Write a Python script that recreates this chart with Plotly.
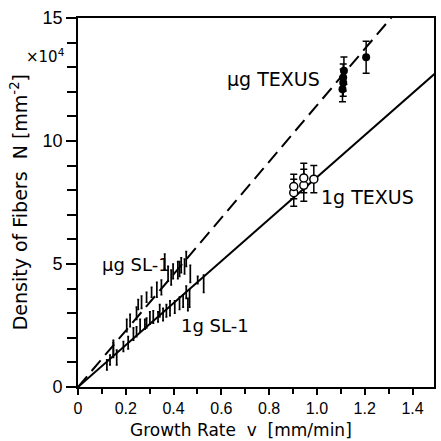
import plotly.graph_objects as go

# ---- data (growth rate v in mm/min, density N in 10^4 mm^-2) ----
mu_sl1_x = [0.148, 0.204, 0.218, 0.245, 0.252, 0.266, 0.287, 0.308, 0.33, 0.349, 0.363,
            0.377, 0.39, 0.398, 0.418, 0.425, 0.432, 0.446, 0.453, 0.47]
mu_sl1_y = [1.6, 2.5, 2.7, 3.0, 3.35, 3.45, 3.65, 3.85, 3.95, 4.05, 5.1,
            4.6, 4.45, 4.7, 4.75, 4.8, 4.95, 4.9, 5.2, 4.6]
mu_sl1_err = [0.3, 0.25, 0.25, 0.25, 0.2, 0.25, 0.2, 0.2, 0.3, 0.3, 0.3,
              0.3, 0.3, 0.3, 0.35, 0.3, 0.3, 0.3, 0.3, 0.35]

g1_sl1_x = [0.121, 0.134, 0.148, 0.162, 0.19, 0.21, 0.232, 0.245, 0.26, 0.28, 0.287,
            0.301, 0.315, 0.335, 0.342, 0.356, 0.37, 0.385, 0.405, 0.425, 0.44,
            0.453, 0.46, 0.467, 0.501, 0.526]
g1_sl1_y = [0.9, 1.1, 1.5, 1.2, 1.65, 1.8, 2.15, 2.25, 2.5, 2.55, 2.6,
            2.8, 2.85, 2.85, 3.1, 2.95, 3.1, 3.2, 3.25, 3.4, 3.5,
            3.85, 3.35, 3.6, 4.35, 4.2]
g1_sl1_err = [0.2, 0.2, 0.3, 0.3, 0.2, 0.25, 0.25, 0.2, 0.25, 0.2, 0.2,
              0.25, 0.25, 0.2, 0.25, 0.25, 0.25, 0.3, 0.25, 0.25, 0.25,
              0.25, 0.25, 0.35, 0.15, 0.35]

mu_texus_x = [1.107, 1.11, 1.11, 1.113, 1.206]
mu_texus_y = [12.1, 12.37, 12.58, 12.86, 13.4]
mu_texus_err = [0.5, 0.55, 0.55, 0.55, 0.65]

g1_texus_x = [0.903, 0.903, 0.945, 0.945, 0.987]
g1_texus_y = [7.9, 8.15, 8.2, 8.5, 8.45]
g1_texus_err = [0.55, 0.5, 0.65, 0.6, 0.55]

slope_mu = 11.45   # dashed fit line (µg)
slope_1g = 8.53    # solid fit line (1g)
line_x = [0.0, 1.6]

x_ticks = [0, 0.2, 0.4, 0.6, 0.8, 1.0, 1.2, 1.4]
x_tick_text = ["0", "0.2", "0.4", "0.6", "0.8", "1.0", "1.2", "1.4"]
y_ticks = [0, 5, 10, 15]
y_tick_text = ["0", "5", "10", "15"]

FONT = "DejaVu Sans"
TICKFONT = "Liberation Sans Narrow, Liberation Sans, DejaVu Sans"

fig = go.Figure()

fig.add_trace(go.Scatter(x=line_x, y=[slope_mu * v for v in line_x], mode="lines",
                         line=dict(color="black", width=2, dash="14px,7px"),
                         hoverinfo="skip"))
fig.add_trace(go.Scatter(x=line_x, y=[slope_1g * v for v in line_x], mode="lines",
                         line=dict(color="black", width=2),
                         hoverinfo="skip"))

for xs, ys, es in [(mu_sl1_x, mu_sl1_y, mu_sl1_err), (g1_sl1_x, g1_sl1_y, g1_sl1_err)]:
    fig.add_trace(go.Scatter(
        x=xs, y=ys, mode="markers",
        marker=dict(size=1, color="black"),
        error_y=dict(type="data", array=es, color="black", thickness=1.7, width=1)))

fig.add_trace(go.Scatter(
    x=mu_texus_x, y=mu_texus_y, mode="markers",
    marker=dict(size=8, color="black", symbol="circle"),
    error_y=dict(type="data", array=mu_texus_err, color="black", thickness=1.5, width=3.5)))
fig.add_trace(go.Scatter(
    x=g1_texus_x, y=g1_texus_y, mode="markers",
    marker=dict(size=8, color="white", symbol="circle", line=dict(color="black", width=1.5)),
    error_y=dict(type="data", array=g1_texus_err, color="black", thickness=1.5, width=3.5)))

L, R, T, B = 78, 5, 18, 54

fig.update_layout(
    width=441, height=441, autosize=False,
    margin=dict(l=L, r=R, t=T, b=B, pad=0),
    paper_bgcolor="white", plot_bgcolor="white",
    showlegend=False,
    font=dict(family=FONT, color="black", size=16),
    xaxis=dict(range=[0, 1.49], tickvals=x_ticks, ticktext=x_tick_text,
               ticks="outside", ticklen=6, tickwidth=1.5, tickcolor="black",
               minor=dict(dtick=0.1, tick0=0, ticks="outside", ticklen=5, tickwidth=1.5, tickcolor="black"),
               showline=True, linecolor="black", linewidth=1.8, mirror=True,
               showgrid=False, zeroline=False,
               tickfont=dict(family=TICKFONT, size=16)),
    yaxis=dict(range=[0, 15], tickvals=y_ticks, ticktext=y_tick_text,
               ticks="outside", ticklen=10, tickwidth=1.5, tickcolor="black",
               minor=dict(dtick=1, tick0=0, ticks="outside", ticklen=9, tickwidth=1.5, tickcolor="black"),
               showline=True, linecolor="black", linewidth=1.8, mirror=True,
               showgrid=False, zeroline=False,
               tickfont=dict(family=TICKFONT, size=18)),
)

anns = [
    dict(text="µg TEXUS", x=0.82, y=12.54, size=19),
    dict(text="1g TEXUS", x=1.213, y=7.73, size=19),
    dict(text="µg SL-1", x=0.241, y=4.97, size=18),
    dict(text="1g SL-1", x=0.575, y=2.48, size=18),
]
for a in anns:
    fig.add_annotation(text=a["text"], x=a["x"], y=a["y"], xref="x", yref="y",
                       showarrow=False, font=dict(family=FONT, size=a["size"], color="black"),
                       xanchor="center", yanchor="middle")

pw = 441 - L - R
ph = 441 - T - B
fig.add_annotation(text="Growth Rate  v  [mm/min]", xref="paper", yref="paper",
                   x=(242 - L) / pw, y=(441 - B - 430) / ph, showarrow=False,
                   font=dict(family=FONT, size=17), xanchor="center", yanchor="middle")
fig.add_annotation(text="Density of Fibers  N [mm<sup>-2</sup>]", xref="paper", yref="paper",
                   x=(19 - L) / pw, y=(441 - B - 202) / ph, showarrow=False, textangle=-90,
                   font=dict(family=FONT, size=19), xanchor="center", yanchor="middle")
fig.add_annotation(text="×10<sup>4</sup>", xref="paper", yref="paper",
                   x=(67 - L) / pw, y=(441 - B - 56) / ph, showarrow=False,
                   font=dict(family=FONT, size=15), xanchor="right", yanchor="middle")

fig.write_html("out.html")
